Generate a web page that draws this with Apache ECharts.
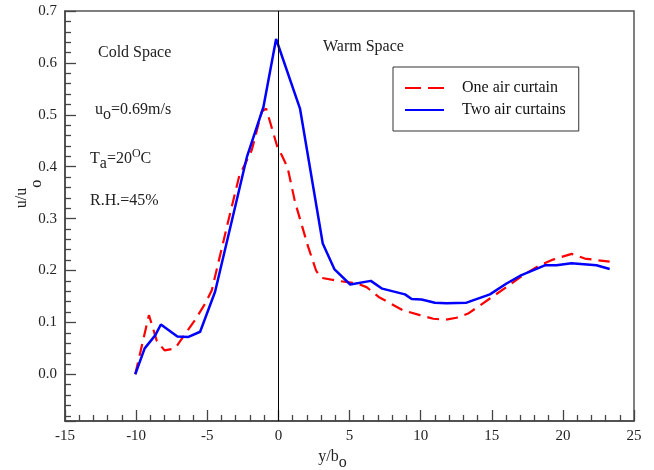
<!DOCTYPE html>
<html>
<head>
<meta charset="utf-8">
<script src="https://cdn.jsdelivr.net/npm/echarts@6/dist/echarts.min.js"></script>
<style>
html,body{margin:0;padding:0;background:#fff;}
#chart{width:654px;height:470px;}
</style>
</head>
<body>
<div id="chart"></div>
<script>
// ---- data ----
const seriesNames = ['One air curtain', 'Two air curtains'];
const oneX = [-10.06, -9.1, -8.54, -8.0, -7.25, -6.55, -5.85, -5.15, -4.68, -3.51, -2.75, -1.87, -1.17, -0.86, -0.07, 0.24, 0.65, 1.17, 2.1, 2.65, 2.98, 4.2, 5.5, 6.2, 7.05, 7.72, 8.78, 9.95, 10.89, 11.71, 12.53, 13.34, 14.87, 16.04, 17.2, 18.38, 19.31, 20.62, 21.54, 22.4, 23.29];
const oneY = [0.0, 0.114, 0.064, 0.046, 0.050, 0.078, 0.105, 0.136, 0.162, 0.297, 0.382, 0.432, 0.506, 0.512, 0.438, 0.422, 0.398, 0.332, 0.245, 0.200, 0.186, 0.180, 0.175, 0.168, 0.149, 0.139, 0.123, 0.114, 0.107, 0.105, 0.109, 0.117, 0.146, 0.168, 0.191, 0.210, 0.221, 0.232, 0.223, 0.220, 0.217];
const twoX = [-10.06, -9.4, -8.66, -8.26, -7.1, -6.32, -5.5, -4.45, -2.2, -1.05, -0.16, 1.52, 3.12, 3.95, 5.05, 6.5, 7.3, 8.9, 9.37, 10.07, 11.0, 11.82, 13.23, 14.87, 16.04, 17.09, 18.73, 19.55, 20.6, 22.36, 23.29];
const twoY = [0.0, 0.050, 0.075, 0.096, 0.073, 0.072, 0.082, 0.159, 0.420, 0.515, 0.646, 0.512, 0.252, 0.202, 0.173, 0.180, 0.165, 0.154, 0.145, 0.144, 0.138, 0.137, 0.138, 0.154, 0.175, 0.191, 0.210, 0.210, 0.214, 0.210, 0.203];
const xRange = [-15, 25];
const xStep = 5;
const yRange = [-0.09, 0.7];
const dividerX = 0;

const zip = (xs, ys) => xs.map((x, i) => [x, ys[i]]);
const FONT = 'Liberation Serif';

const chart = echarts.init(document.getElementById('chart'), null, {renderer: 'canvas'});
const axisCommon = {
  axisLine: {show: true, onZero: false, lineStyle: {color: '#444', width: 1.5}},
  axisTick: {show: true, inside: true, length: 11, lineStyle: {color: '#444', width: 1.3}},
  minorTick: {show: true, splitNumber: 5, length: 6, lineStyle: {color: '#444', width: 1.3}},
  splitLine: {show: false},
  minorSplitLine: {show: false},
  axisLabel: {fontFamily: FONT, fontSize: 15, color: '#222', margin: 8}
};
chart.setOption({
  animation: false,
  backgroundColor: '#fff',
  grid: {left: 65, top: 11, right: 20, bottom: 49, containLabel: false, outerBoundsMode: 'none',
    show: true, borderColor: '#555', borderWidth: 1.5, backgroundColor: 'transparent'},
  xAxis: Object.assign({}, axisCommon, {
    type: 'value', min: xRange[0], max: xRange[1], interval: xStep,
    name: '{a|y/b}{b|o}', nameLocation: 'middle', nameGap: 21,
    nameTextStyle: {padding: [0, 34, 0, 0], rich: {
      a: {fontFamily: FONT, fontSize: 16, color: '#222'},
      b: {fontFamily: FONT, fontSize: 16, color: '#222', padding: [12, 0, 0, 0]}
    }}
  }),
  yAxis: Object.assign({}, axisCommon, {
    type: 'value', min: yRange[0], max: yRange[1], splitNumber: 8,
    axisLabel: Object.assign({}, axisCommon.axisLabel, {showMinLabel: false, formatter: v => v.toFixed(1)})
  }),
  legend: {
    orient: 'vertical', left: 393, top: 67,
    padding: [13, 13, 13, 11], itemGap: 6, itemWidth: 39, itemHeight: 14,
    borderColor: '#333', borderWidth: 1, backgroundColor: '#fff',
    itemStyle: {opacity: 0, borderWidth: 0},
    textStyle: {fontFamily: FONT, fontSize: 16, color: '#111', padding: [0, 0, 0, 13]},
    data: [
      {name: seriesNames[0], lineStyle: {type: [16, 7]}},
      {name: seriesNames[1]}
    ]
  },
  graphic: [
    {type: 'text', x: 22, y: 194, rotation: Math.PI / 2, style: {
      text: '{a|u/u}{b|o}', align: 'center', verticalAlign: 'middle', rich: {
        a: {fontFamily: FONT, fontSize: 16, fill: '#222'},
        b: {fontFamily: FONT, fontSize: 16, fill: '#222', padding: [30, 0, 0, 0]}
      }}},
    {type: 'text', left: 98, top: 45, style: {text: 'Cold Space', font: '16px "Liberation Serif"', fill: '#222'}},
    {type: 'text', left: 323, top: 39, style: {text: 'Warm Space', font: '16px "Liberation Serif"', fill: '#222'}},
    {type: 'text', left: 95, top: 102, style: {text: '{a|u}{b|o}{a|=0.69m/s}', fill: '#222', rich: {
      a: {fontFamily: FONT, fontSize: 16, fill: '#222'},
      b: {fontFamily: FONT, fontSize: 16, fill: '#222', padding: [10, 0, 0, 0]}
    }}},
    {type: 'text', left: 90, top: 148, style: {text: '{a|T}{b|a}{a|=20}{c|O}{a|C}', fill: '#222', rich: {
      a: {fontFamily: FONT, fontSize: 16, fill: '#222'},
      b: {fontFamily: FONT, fontSize: 16, fill: '#222', padding: [10, 0, 0, 0]},
      c: {fontFamily: FONT, fontSize: 12, fill: '#222', padding: [0, 0, 10, 0]}
    }}},
    {type: 'text', left: 90, top: 193, style: {text: 'R.H.=45%', font: '16px "Liberation Serif"', fill: '#222'}}
  ],
  series: [
    {
      name: seriesNames[0], type: 'line', data: zip(oneX, oneY), symbol: 'none', showSymbol: false,
      lineStyle: {color: '#ff0000', width: 2.2, type: [12, 7]}, itemStyle: {color: '#ff0000'}, z: 3
    },
    {
      name: seriesNames[1], type: 'line', data: zip(twoX, twoY), symbol: 'none', showSymbol: false,
      lineStyle: {color: '#0000ff', width: 2.5}, itemStyle: {color: '#0000ff'}, z: 4,
      markLine: {silent: true, symbol: ['none', 'none'], label: {show: false},
        lineStyle: {color: '#000', width: 1, type: 'solid'}, data: [{xAxis: dividerX}]}
    }
  ]
});
</script>
</body>
</html>
